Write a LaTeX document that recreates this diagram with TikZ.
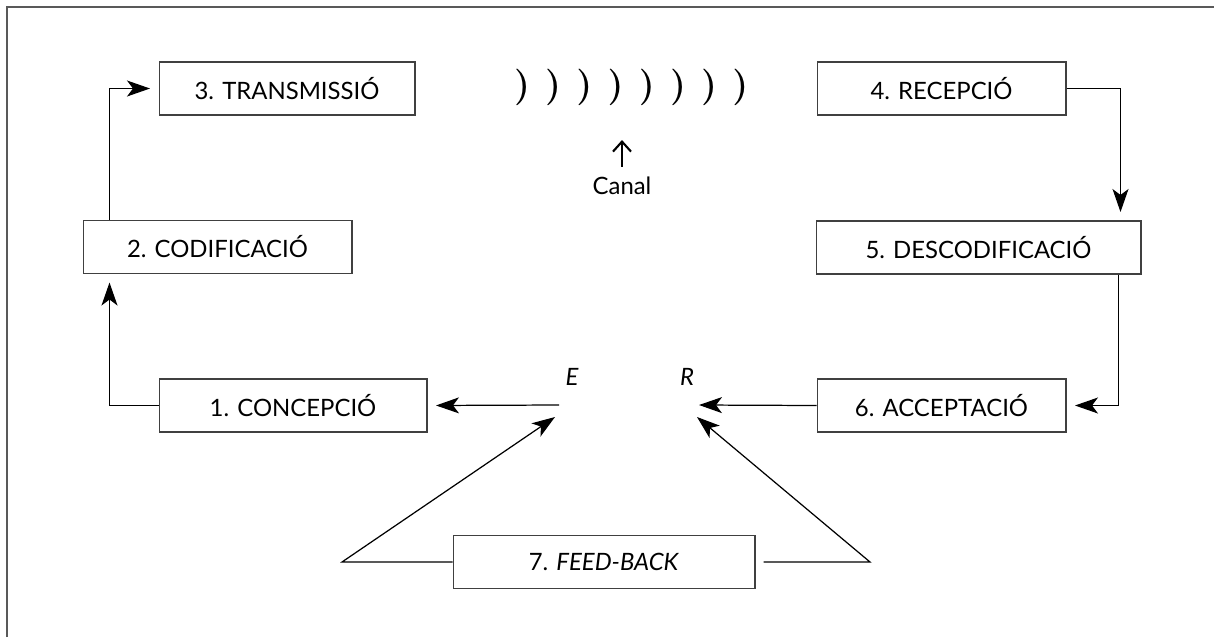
\documentclass[tikz,border=0pt]{standalone}
\usepackage{fontspec}
\setmainfont{Lato}
\usetikzlibrary{arrows.meta,positioning}

\begin{document}
\begin{tikzpicture}[
    x=0.02cm, y=-0.02cm,
    stagenode/.style={rectangle, draw=black!75, line width=0.6pt, minimum height=1.06cm, inner sep=0pt, font=\fontsize{13.6}{15}\selectfont},
    labelnode/.style={inner sep=0pt, font=\fontsize{13.6}{15}\selectfont\itshape},
    wavenode/.style={inner sep=0pt, font=\fontsize{20.74}{24}\selectfont\boldmath},
    flow/.style={-{Stealth[length=0.46cm, width=0.32cm, inset=0.12cm]}, line width=0.7pt, shorten >=0.17cm},
]
\useasboundingbox (0,0) rectangle (1214,637);
\draw[black!65, line width=1.1pt] (7,637) -- (7,7) -- (1214,7);

\node[stagenode, minimum width=5.12cm] (transmissio)    at (287,88.5)  {3. TRANSMISSIÓ};
\node[stagenode, minimum width=5.38cm] (codificacio)    at (217.5,247) {2. CODIFICACIÓ};
\node[stagenode, minimum width=5.36cm] (concepcio)      at (293,405.5) {1. CONCEPCIÓ};
\node[stagenode, minimum width=4.98cm] (recepcio)       at (941.5,88.5) {4. RECEPCIÓ};
\node[stagenode, minimum width=6.5cm]  (descodificacio) at (978.5,247.5) {5. DESCODIFICACIÓ};
\node[stagenode, minimum width=4.98cm] (acceptacio)     at (941.5,405.5) {6. ACCEPTACIÓ};
\node[stagenode, minimum width=6.04cm] (feedback)       at (604,562)   {7. \textit{FEED-BACK}};

\foreach \i in {0,...,7}
    \node[wavenode] (wave\i) at (522+31.2*\i,87) {$)$};
\node[inner sep=0pt, font=\fontsize{13.6}{15}\selectfont] (canal) at (622,186) {Canal};
\coordinate (canaltip) at (622,140);
\draw[-{Straight Barb[length=0.2cm, width=0.36cm]}, line width=1.2pt] ([yshift=0.2cm]canal.north) -- (canaltip);

\node[labelnode] (emissor)  at (572,377) {E};
\node[labelnode] (receptor) at (687,377) {R};
\coordinate (eout)   at (559,405);
\coordinate (ein)    at (555,417);
\coordinate (rin)    at (699,405);
\coordinate (rinfb)  at (697,417);
\coordinate (fbleft) at (342,562);
\coordinate (fbright) at (870,562);

\draw[flow] (concepcio.west) -| ([xshift=0.54cm]codificacio.south west);
\draw[flow] ([xshift=0.54cm]codificacio.north west) |- (transmissio.west);
\draw[flow] (recepcio.east) -| ([xshift=-0.42cm]descodificacio.north east);
\draw[flow] ([xshift=-0.46cm]descodificacio.south east) |- (acceptacio.east);
\draw[flow] (eout) -- (concepcio.east);
\draw[flow, shorten >=0pt] (acceptacio.west) -- (rin);
\draw[flow, shorten >=0pt] (feedback.west) -- (fbleft) -- (ein);
\draw[flow, shorten >=0pt] ([xshift=0.16cm]feedback.east) -- (fbright) -- (rinfb);
\end{tikzpicture}
\end{document}
